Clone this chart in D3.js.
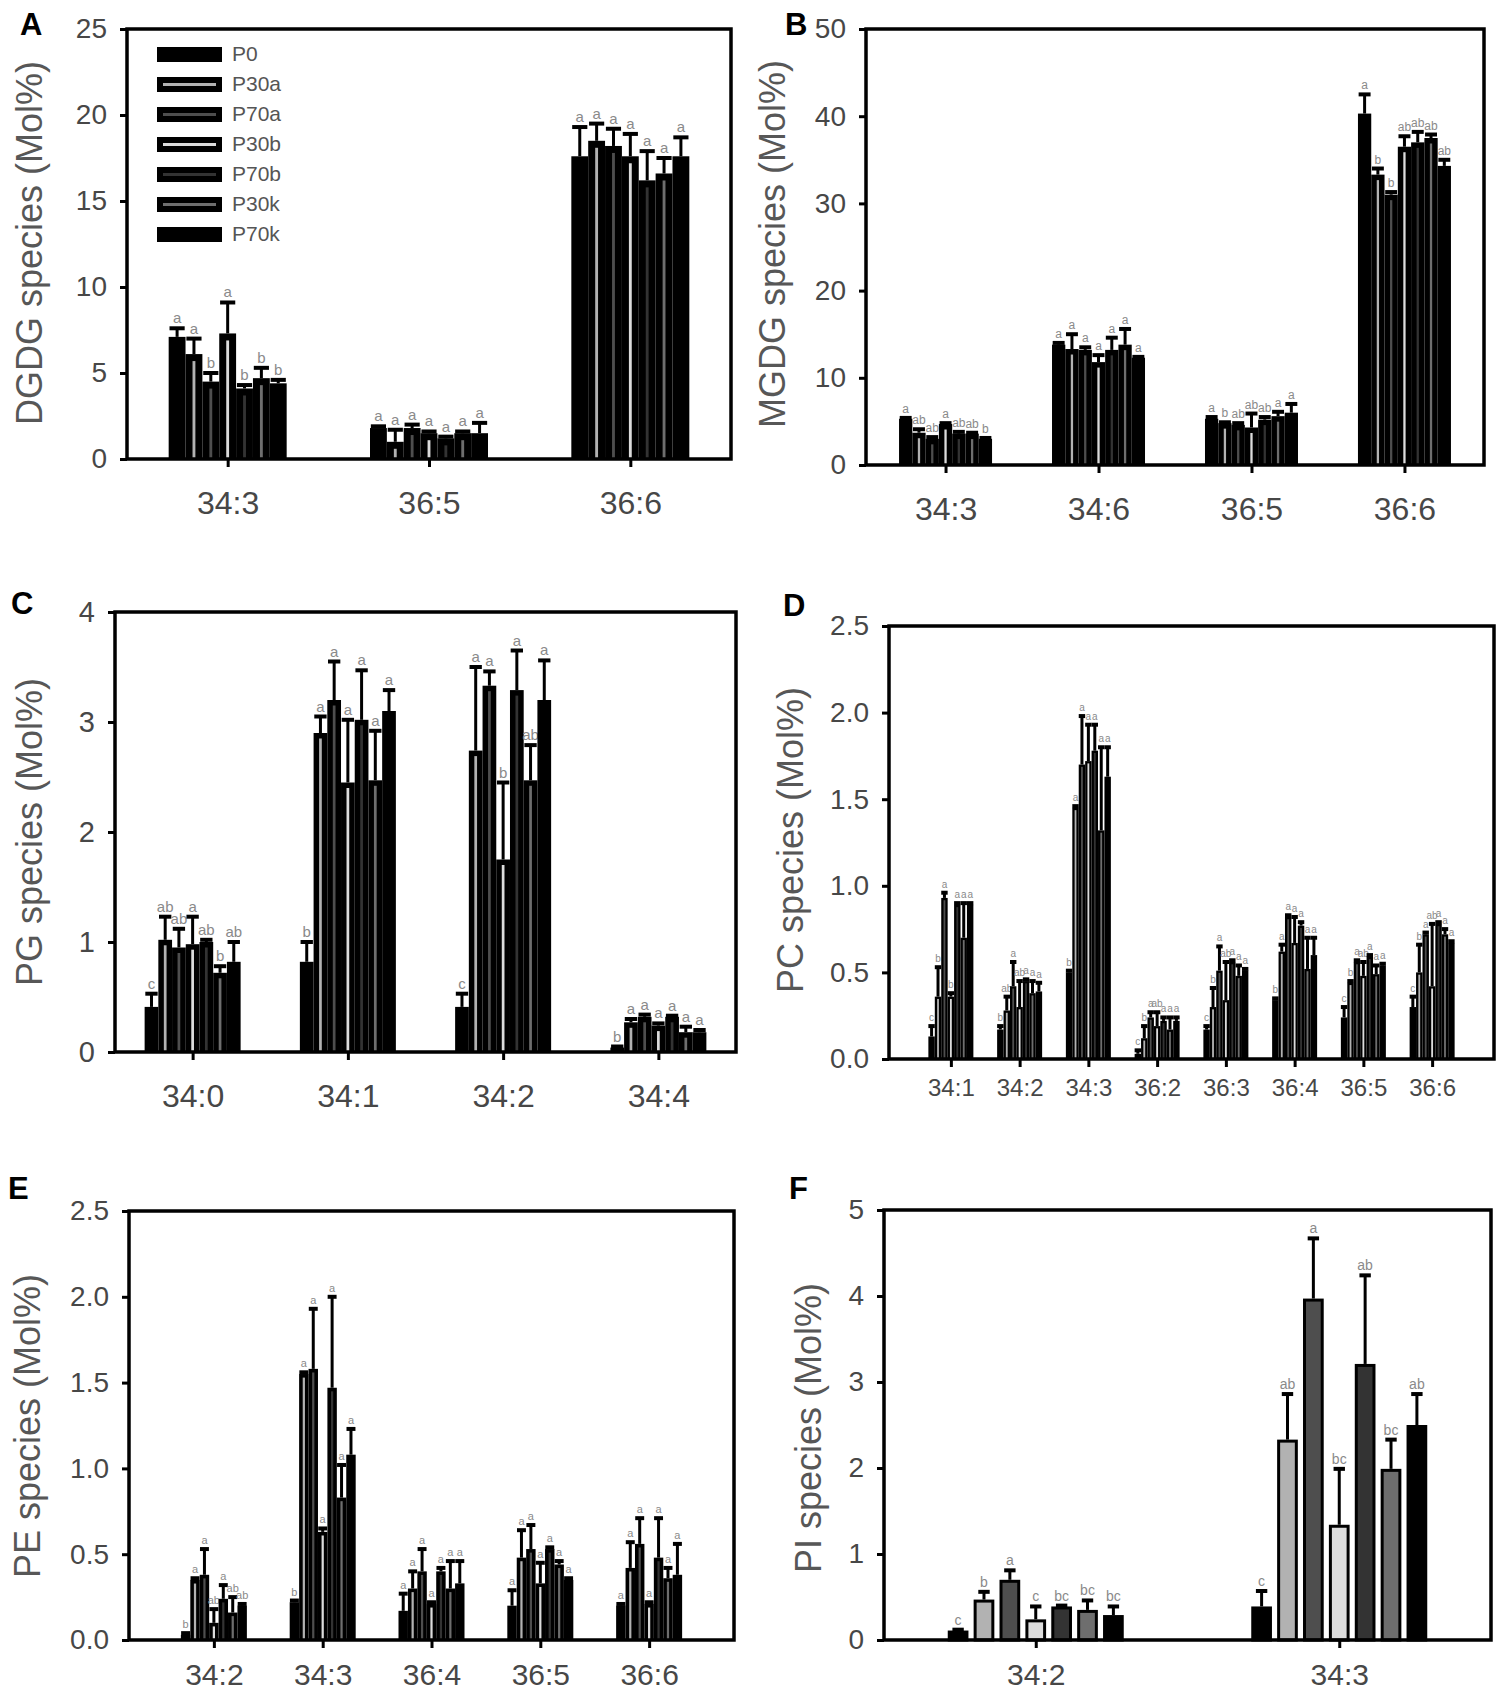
<!DOCTYPE html>
<html><head><meta charset="utf-8">
<script src="https://cdn.jsdelivr.net/npm/d3@7"></script>
<style>
body{margin:0;background:#fff}
svg{display:block}
text{font-family:"Liberation Sans",Arial,sans-serif}
</style>
</head><body>
<svg id="chart" width="1500" height="1691"></svg>
<script>
// ---------- series ----------
const seriesNames = ["P0","P30a","P70a","P30b","P70b","P30k","P70k"];
const seriesColors = ["#000000","#b2b2b2","#4e4e4e","#dcdcdc","#333333","#6e6e6e","#000000"];

// ---------- A: DGDG ----------
const dgdgCats = ["34:3","36:5","36:6"];
const dgdgMean = [
  [7.1, 6.1, 4.5, 7.3, 4.1, 4.7, 4.4],
  [1.8, 1.0, 1.8, 1.5, 1.2, 1.5, 1.5],
  [17.6, 18.5, 18.2, 17.6, 16.2, 16.6, 17.6]];
const dgdgSD = [
  [0.5, 0.9, 0.5, 1.8, 0.2, 0.6, 0.2],
  [0.1, 0.7, 0.2, 0.1, 0.1, 0.1, 0.6],
  [1.7, 1.0, 1.0, 1.3, 1.7, 0.9, 1.1]];
const dgdgSig = [
  ["a","a","b","a","b","b","b"],
  ["a","a","a","a","a","a","a"],
  ["a","a","a","a","a","a","a"]];
const dgdgTicks = [0,5,10,15,20,25];

// ---------- B: MGDG ----------
const mgdgCats = ["34:3","34:6","36:5","36:6"];
const mgdgMean = [
  [5.3, 3.7, 3.0, 4.7, 3.6, 3.6, 3.0],
  [13.8, 13.3, 13.2, 11.8, 13.2, 13.8, 12.3],
  [5.3, 4.8, 4.6, 4.3, 5.2, 5.6, 6.0],
  [40.3, 33.3, 31.0, 36.5, 37.0, 37.5, 34.3]];
const mgdgSD = [
  [0.1, 0.4, 0.2, 0.1, 0.2, 0.1, 0.1],
  [0.2, 1.7, 0.3, 0.8, 1.4, 1.8, 0.1],
  [0.2, 0.1, 0.2, 1.6, 0.3, 0.5, 1.0],
  [2.2, 0.7, 0.3, 1.2, 1.2, 0.4, 0.7]];
const mgdgSig = [
  ["a","ab","ab","a","ab","ab","b"],
  ["a","a","a","a","a","a","a"],
  ["a","b","ab","ab","ab","a","a"],
  ["a","b","b","ab","ab","ab","ab"]];
const mgdgTicks = [0,10,20,30,40,50];

// ---------- C: PG ----------
const pgCats = ["34:0","34:1","34:2","34:4"];
const pgMean = [
  [0.41, 1.02, 0.95, 0.98, 1.00, 0.72, 0.82],
  [0.82, 2.90, 3.20, 2.45, 3.02, 2.47, 3.10],
  [0.41, 2.74, 3.33, 1.75, 3.29, 2.47, 3.20],
  [0.04, 0.27, 0.32, 0.24, 0.32, 0.18, 0.18]];
const pgSD = [
  [0.12, 0.21, 0.17, 0.25, 0.02, 0.06, 0.18],
  [0.18, 0.15, 0.35, 0.57, 0.45, 0.45, 0.19],
  [0.12, 0.76, 0.13, 0.70, 0.36, 0.32, 0.36],
  [0.01, 0.03, 0.02, 0.02, 0.01, 0.05, 0.02]];
const pgSig = [
  ["c","ab","ab","a","ab","b","ab"],
  ["b","a","a","a","a","a","a"],
  ["c","a","a","b","a","ab","a"],
  ["b","a","a","a","a","a","a"]];
const pgTicks = [0,1,2,3,4];

// ---------- D: PC ----------
const pcCats = ["34:1","34:2","34:3","36:2","36:3","36:4","36:5","36:6"];
const pcMean = [
  [0.13, 0.36, 0.93, 0.36, 0.89, 0.70, 0.89],
  [0.17, 0.28, 0.42, 0.30, 0.45, 0.38, 0.39],
  [0.50, 1.45, 1.70, 1.72, 1.78, 1.32, 1.63],
  [0.03, 0.12, 0.24, 0.19, 0.22, 0.17, 0.22],
  [0.17, 0.30, 0.51, 0.34, 0.56, 0.48, 0.51],
  [0.34, 0.62, 0.82, 0.67, 0.77, 0.52, 0.60],
  [0.24, 0.44, 0.56, 0.48, 0.59, 0.49, 0.54],
  [0.30, 0.50, 0.72, 0.42, 0.78, 0.72, 0.67]];
const pcSD = [
  [0.06, 0.17, 0.03, 0.02, 0.01, 0.20, 0.01],
  [0.02, 0.08, 0.14, 0.15, 0.01, 0.07, 0.05],
  [0.01, 0.01, 0.28, 0.21, 0.15, 0.48, 0.17],
  [0.02, 0.07, 0.03, 0.08, 0.02, 0.07, 0.02],
  [0.02, 0.11, 0.14, 0.22, 0.01, 0.06, 0.01],
  [0.01, 0.04, 0.01, 0.15, 0.02, 0.18, 0.10],
  [0.06, 0.01, 0.01, 0.08, 0.01, 0.05, 0.01],
  [0.06, 0.16, 0.01, 0.36, 0.01, 0.03, 0.01]];
const pcSig = [
  ["c","b","a","b","a","a","a"],
  ["b","ab","a","ab","a","a","a"],
  ["b","a","a","a","a","a","a"],
  ["c","b","a","ab","a","a","a"],
  ["c","b","a","ab","a","a","a"],
  ["b","a","a","a","a","a","a"],
  ["c","b","a","ab","a","a","a"],
  ["c","b","a","ab","a","a","a"]];
const pcTicks = [0,0.5,1.0,1.5,2.0,2.5];

// ---------- E: PE ----------
const peCats = ["34:2","34:3","36:4","36:5","36:6"];
const peMean = [
  [0.03, 0.35, 0.38, 0.10, 0.24, 0.16, 0.20],
  [0.22, 1.55, 1.58, 0.63, 1.47, 0.83, 1.08],
  [0.17, 0.30, 0.40, 0.21, 0.40, 0.30, 0.33],
  [0.20, 0.48, 0.53, 0.33, 0.53, 0.44, 0.35],
  [0.20, 0.42, 0.56, 0.21, 0.48, 0.36, 0.38]];
const peSD = [
  [0.01, 0.01, 0.15, 0.08, 0.08, 0.09, 0.01],
  [0.01, 0.01, 0.35, 0.02, 0.53, 0.19, 0.15],
  [0.10, 0.10, 0.13, 0.01, 0.02, 0.16, 0.13],
  [0.09, 0.16, 0.14, 0.12, 0.01, 0.02, 0.01],
  [0.01, 0.15, 0.15, 0.01, 0.23, 0.06, 0.18]];
const peSig = [
  ["b","a","a","ab","a","ab","ab"],
  ["b","a","a","a","a","a","a"],
  ["a","a","a","a","a","a","a"],
  ["a","a","a","a","a","a","a"],
  ["a","a","a","a","a","a","a"]];
const peTicks = [0,0.5,1.0,1.5,2.0,2.5];

// ---------- F: PI ----------
const piCats = ["34:2","34:3"];
const piMean = [
  [0.11, 0.47, 0.70, 0.24, 0.39, 0.35, 0.29],
  [0.39, 2.33, 3.97, 1.34, 3.21, 1.99, 2.50]];
const piSD = [
  [0.01, 0.09, 0.11, 0.15, 0.01, 0.11, 0.10],
  [0.18, 0.53, 0.70, 0.65, 1.03, 0.34, 0.36]];
const piSig = [
  ["c","b","a","c","bc","bc","bc"],
  ["c","ab","a","bc","ab","bc","ab"]];
const piTicks = [0,1,2,3,4,5];

// ---------- panel layout (positions/styles only) ----------
const panels = [
  {label:"A", title:"DGDG species (Mol%)", cats:dgdgCats, mean:dgdgMean, sd:dgdgSD, sig:dgdgSig, ticks:dgdgTicks, fmt:"d",
   box:{l:127,t:29,r:731,b:459}, pad:0.5, gw:118, gap:0, inset:7, cap:0.9, sigSize:15,
   yFont:28, xFont:32, xPad:24, labelPos:[20,35], titlePos:[29,243], legend:true},
  {label:"B", title:"MGDG species (Mol%)", cats:mgdgCats, mean:mgdgMean, sd:mgdgSD, sig:mgdgSig, ticks:mgdgTicks, fmt:"d",
   box:{l:866,t:29,r:1484,b:465}, pad:0.52, gw:93, gap:0, inset:5.5, cap:0.9, sigSize:12,
   yFont:28, xFont:32, xPad:24, labelPos:[785,35], titlePos:[772,244]},
  {label:"C", title:"PG species (Mol%)", cats:pgCats, mean:pgMean, sd:pgSD, sig:pgSig, ticks:pgTicks, fmt:"d",
   box:{l:115,t:612,r:736,b:1052}, pad:0.5, gw:96, gap:0, inset:5.5, cap:0.9, sigSize:15,
   yFont:29, xFont:32, xPad:24, labelPos:[11,614], titlePos:[29,832]},
  {label:"D", title:"PC species (Mol%)", cats:pcCats, mean:pcMean, sd:pcSD, sig:pcSig, ticks:pcTicks, fmt:".1f",
   box:{l:889,t:626,r:1494,b:1059}, pad:0.9, gw:45, gap:0, inset:2.3, cap:1.0, sigSize:10,
   yFont:28, xFont:24, xPad:12, labelPos:[783,616], titlePos:[790,840]},
  {label:"E", title:"PE species (Mol%)", cats:peCats, mean:peMean, sd:peSD, sig:peSig, ticks:peTicks, fmt:".1f",
   box:{l:129,t:1211,r:734,b:1640}, pad:0.78, gw:66, gap:0, inset:3.6, cap:0.95, sigSize:11,
   yFont:28, xFont:30, xPad:16, labelPos:[8,1199], titlePos:[27,1426]},
  {label:"F", title:"PI species (Mol%)", cats:piCats, mean:piMean, sd:piSD, sig:piSig, ticks:piTicks, fmt:"d",
   box:{l:884,t:1210,r:1491,b:1640}, pad:0.5, gw:176, gap:0.2, inset:3, cap:0.55, sigSize:14, framed:true,
   yFont:28, xFont:30, xPad:16, labelPos:[789,1199], titlePos:[808,1428]}
];

const svg = d3.select("#chart");
const textGray = "#474747";

function drawPanel(p){
  const g = svg.append("g");
  const x = d3.scalePoint().domain(p.cats).range([p.box.l, p.box.r]).padding(p.pad);
  const xs = d3.scaleBand().domain(seriesNames).range([-p.gw/2, p.gw/2]).paddingInner(p.gap);
  const y = d3.scaleLinear().domain([0, d3.max(p.ticks)]).range([p.box.b, p.box.t]);
  const bw = xs.bandwidth();

  const rows = [];
  p.cats.forEach((c,ci)=>seriesNames.forEach((s,si)=>rows.push({c, s, si, v:p.mean[ci][si], e:p.sd[ci][si], lab:p.sig[ci][si]})));

  const bars = g.append("g");
  rows.forEach(d=>{
    const bx = x(d.c) + xs(d.s), by = y(d.v), bh = y(0) - y(d.v);
    if (p.framed){
      bars.append("rect").attr("x", bx + p.inset/2).attr("y", by + p.inset/2)
        .attr("width", bw - p.inset).attr("height", Math.max(0, bh - p.inset/2))
        .attr("fill", seriesColors[d.si]).attr("stroke","#000").attr("stroke-width", p.inset);
    } else {
      bars.append("rect").attr("x", bx).attr("y", by).attr("width", bw).attr("height", bh).attr("fill","#000");
      const iw = bw - 2*p.inset, ih = bh - p.inset;
      if (iw > 0 && ih > 0)
        bars.append("rect").attr("x", bx + p.inset).attr("y", by + p.inset).attr("width", iw).attr("height", ih)
          .attr("fill", seriesColors[d.si]);
    }
    // error bar (upper only)
    const cx = bx + bw/2, ey = y(d.v + d.e), cw = bw * p.cap;
    bars.append("line").attr("x1",cx).attr("x2",cx).attr("y1",by).attr("y2",ey)
      .attr("stroke","#000").attr("stroke-width",3);
    bars.append("line").attr("x1",cx-cw/2).attr("x2",cx+cw/2).attr("y1",ey).attr("y2",ey)
      .attr("stroke","#000").attr("stroke-width",4);
    // significance letter
    bars.append("text").attr("x",cx).attr("y",ey-5).attr("text-anchor","middle")
      .attr("font-size",p.sigSize).attr("fill","#8a8a8a").text(d.lab);
  });

  // frame
  g.append("rect").attr("x",p.box.l).attr("y",p.box.t).attr("width",p.box.r-p.box.l).attr("height",p.box.b-p.box.t)
    .attr("fill","none").attr("stroke","#000").attr("stroke-width",3.5);

  // y axis
  const ya = g.append("g").attr("transform",`translate(${p.box.l},0)`)
    .call(d3.axisLeft(y).tickValues(p.ticks).tickFormat(d3.format(p.fmt)).tickSize(7).tickPadding(13));
  ya.select(".domain").remove();
  ya.selectAll("line").attr("stroke","#000").attr("stroke-width",3);
  ya.selectAll("text").attr("font-size",p.yFont).attr("fill",textGray).attr("font-family","Liberation Sans, Arial, sans-serif");

  // x axis
  const xa = g.append("g").attr("transform",`translate(0,${p.box.b})`)
    .call(d3.axisBottom(x).tickSize(8).tickPadding(p.xPad));
  xa.select(".domain").remove();
  xa.selectAll("line").attr("stroke","#000").attr("stroke-width",3);
  xa.selectAll("text").attr("font-size",p.xFont).attr("fill",textGray).attr("font-family","Liberation Sans, Arial, sans-serif");

  // panel label
  g.append("text").attr("x",p.labelPos[0]).attr("y",p.labelPos[1]).attr("font-size",31).attr("font-weight","bold")
    .attr("fill","#000").text(p.label);

  // y title
  g.append("text").attr("transform",`translate(${p.titlePos[0]},${p.titlePos[1]}) rotate(-90)`)
    .attr("text-anchor","middle").attr("dominant-baseline","central")
    .attr("font-size",36).attr("fill","#575757").text(p.title);

  if (p.legend){
    const lg = g.append("g");
    seriesNames.forEach((s,i)=>{
      const ly = 47 + i*30;
      lg.append("rect").attr("x",157).attr("y",ly).attr("width",65).attr("height",15).attr("fill","#000");
      lg.append("rect").attr("x",163).attr("y",ly+6).attr("width",53).attr("height",3).attr("fill",seriesColors[i]);
      lg.append("text").attr("x",232).attr("y",ly+14).attr("font-size",21).attr("fill","#555").text(s);
    });
  }
}

panels.forEach(drawPanel);
</script>
</body></html>
